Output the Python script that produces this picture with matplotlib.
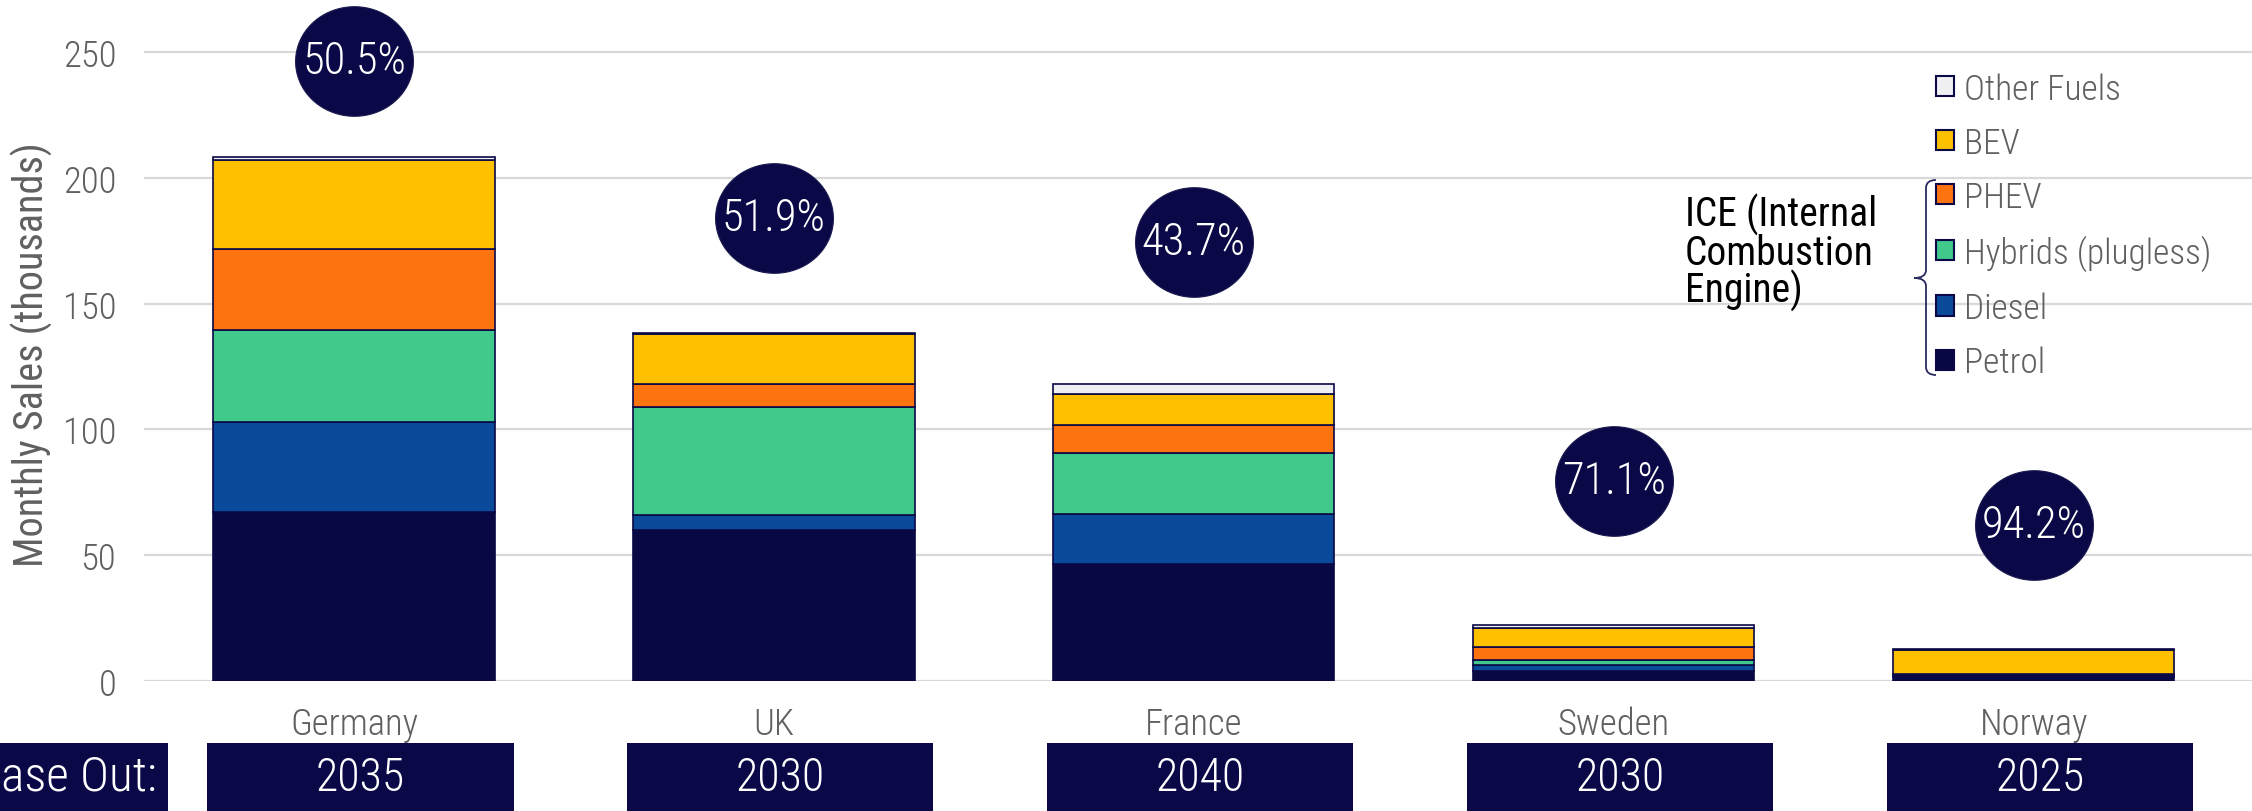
import numpy as np
import matplotlib
matplotlib.use("Agg")
import matplotlib.pyplot as plt
from matplotlib.patches import Rectangle, Patch, PathPatch
from matplotlib.path import Path
from matplotlib.markers import MarkerStyle
import matplotlib.transforms as mtransforms

plt.rcParams["font.family"] = ["Roboto Condensed", "Liberation Sans Narrow", "DejaVu Sans"]
plt.rcParams["font.weight"] = "light"

# data (monthly sales, thousands)
countries = ["Germany", "UK", "France", "Sweden", "Norway"]
phase_out = ["2035", "2030", "2040", "2030", "2025"]
ev_share = ["50.5%", "51.9%", "43.7%", "71.1%", "94.2%"]

petrol = [67.0, 60.0, 46.5, 4.0, 1.6]
diesel = [36.0, 6.0, 20.0, 2.3, 0.3]
hybrids = [36.5, 43.0, 24.0, 1.9, 0.4]
phev = [32.0, 9.0, 11.3, 5.3, 0.6]
bev = [35.5, 20.0, 12.2, 7.7, 9.3]
other = [1.3, 0.3, 4.0, 1.0, 0.4]

series = ["Petrol", "Diesel", "Hybrids (plugless)", "PHEV", "BEV", "Other Fuels"]
values = [petrol, diesel, hybrids, phev, bev, other]
colors = ["#080845", "#0A4A9A", "#40C98A", "#FC7310", "#FFC000", "#F0F0F2"]

# layout: vertical position of the share bubbles
bubble_y = [246.5, 184, 174.5, 79.5, 62]

NAVY = "#0A0846"
GRAY = "#606060"
W, H = 2252, 812

fig = plt.figure(figsize=(W / 100, H / 100), dpi=100)
ax = fig.add_axes([144 / W, 130 / H, 1 - 144 / W, 1 - 130 / H])

x = np.arange(len(countries))
bottom = np.zeros(len(countries))
for name, vals, col in zip(series, values, colors):
    ax.bar(x, vals, 0.67, bottom=bottom, color=col, edgecolor=NAVY,
           linewidth=1.2, label=name, zorder=3)
    bottom += np.array(vals)

ax.set_xlim(-0.5, 4.52)
ax.set_ylim(0, 271)
ax.set_yticks([0, 50, 100, 150, 200, 250])
ax.yaxis.grid(True, color="#D9D9D9", linewidth=1.6, zorder=0)
ax.set_axisbelow(True)
for s in ax.spines.values():
    s.set_visible(False)
ax.tick_params(axis="both", length=0, labelsize=26.5, labelcolor=GRAY)
ax.tick_params(axis="y", pad=20)
ax.tick_params(axis="x", pad=18)
ax.set_xticks(x)
ax.set_xticklabels(countries)
ax.set_ylabel("Monthly Sales (thousands)", fontsize=29, color=GRAY)
ax.yaxis.set_label_coords(-0.043, 0.48)

# share bubbles (slightly wider than tall, as in the source)
t = np.linspace(0, 2 * np.pi, 90)
oval = MarkerStyle(Path(np.column_stack([np.cos(t), 0.93 * np.sin(t)]), closed=True))
ax.scatter(x, bubble_y, s=7200, marker=oval, color=NAVY, edgecolor="#1a1a50",
           linewidth=0.8, zorder=5, clip_on=False)
for xi, yi, txt in zip(x, bubble_y, ev_share):
    ax.text(xi, yi, txt, ha="center", va="center", color="white",
            fontsize=32, zorder=6)

# phase out boxes
trans = mtransforms.blended_transform_factory(ax.transData, fig.transFigure)
box_h = 68 / H
for xi, yr in zip(x, phase_out):
    fig.patches.append(Rectangle((xi - 0.35, 0), 0.73, box_h, transform=trans,
                                 facecolor=NAVY, edgecolor="none"))
    fig.text(xi + 0.015, box_h / 2, yr, transform=trans, ha="center", va="center",
             color="white", fontsize=33)
fig.patches.append(Rectangle((-0.1, 0), 0.1 + 168 / W, box_h,
                             transform=fig.transFigure, facecolor=NAVY,
                             edgecolor="none"))
fig.text(157 / W, box_h / 2, "Phase Out:", ha="right", va="center",
         color="white", fontsize=35.5)

# legend
handles = [Patch(facecolor=c, edgecolor=NAVY, linewidth=1.5, label=n)
           for n, c in zip(series, colors)][::-1]
fig.legend(handles=handles, loc="upper left", bbox_to_anchor=(1936 / W, 1 - 73 / H),
           frameon=False, fontsize=25.5, labelcolor=GRAY, handlelength=0.5,
           handleheight=0.5, handletextpad=0.3, labelspacing=0.585,
           borderpad=0, borderaxespad=0)

# ICE brace + label
def px(xp, yp):
    return (xp / W, 1 - yp / H)

bx, top_y, bot_y, mid_y = 1926, 181, 376, 279
verts = [px(1936, top_y), px(bx, top_y), px(bx, top_y + 8),
         px(bx, mid_y - 8), px(bx, mid_y), px(bx - 12, mid_y),
         px(bx, mid_y), px(bx, mid_y + 8),
         px(bx, bot_y - 8), px(bx, bot_y), px(1936, bot_y)]
codes = [Path.MOVETO, Path.CURVE3, Path.CURVE3,
         Path.LINETO, Path.CURVE3, Path.CURVE3,
         Path.CURVE3, Path.CURVE3,
         Path.LINETO, Path.CURVE3, Path.CURVE3]
fig.patches.append(PathPatch(Path(verts, codes), transform=fig.transFigure,
                             facecolor="none", edgecolor="#2a2a60", linewidth=1.3))
fig.text(1685 / W, 1 - 253 / H, "ICE (Internal\nCombustion\nEngine)", ha="left",
         va="center", fontsize=28.5, color="black", fontweight="normal",
         linespacing=0.92)

fig.savefig("out.png", dpi=100)
